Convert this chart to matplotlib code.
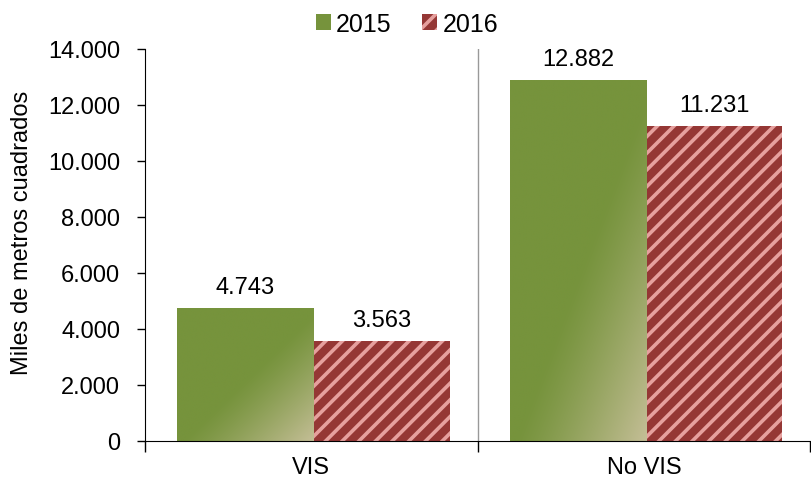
import matplotlib
matplotlib.use("Agg")
import matplotlib.pyplot as plt
import numpy as np
from matplotlib.colors import LinearSegmentedColormap

plt.rcParams["font.family"] = ["Liberation Sans", "DejaVu Sans"]
plt.rcParams["hatch.linewidth"] = 2.6
plt.rcParams["hatch.color"] = "#E6A09E"

categories = ["VIS", "No VIS"]
series_names = ["2015", "2016"]
values_2015 = [4743, 12882]
values_2016 = [3563, 11231]

GREEN = "#76933C"
GREEN_LIGHT = "#C4BE96"
RED = "#953735"


def thousands(value):
    return f"{value:,.0f}".replace(",", ".")


def add_gradient(ax, bar):
    x0, y0 = bar.get_x(), bar.get_y()
    w, h = bar.get_width(), bar.get_height()
    xs = np.linspace(0, 1, 200)
    ys = np.linspace(0, 1, 200)
    gx, gy = np.meshgrid(xs, ys)
    # 0 at the top-left corner, 1 at the bottom-right corner of the bar
    t = (gx + gy) / 2
    t = np.clip((t - 0.52) / 0.48, 0, 1) ** 1.2
    cmap = LinearSegmentedColormap.from_list("g", [GREEN, GREEN_LIGHT])
    im = ax.imshow(t, cmap=cmap, vmin=0, vmax=1, extent=(x0, x0 + w, y0, y0 + h),
                   origin="upper", aspect="auto", interpolation="bilinear", zorder=2)
    im.set_clip_path(bar)


def main():
    fig = plt.figure(figsize=(8.12, 4.85), dpi=100)
    ax = fig.add_axes([0.1786, 0.0887, 0.8194, 0.8083])

    x = np.arange(len(categories))
    width = 0.41

    bars_2015 = ax.bar(x - width / 2 + 0.006, values_2015, width, color=GREEN,
                       linewidth=0, label=series_names[0], zorder=2)
    bars_2016 = ax.bar(x + width / 2 + 0.006, values_2016, width, color=RED,
                       hatch="//", linewidth=0, label=series_names[1], zorder=2)

    for bar in bars_2015:
        add_gradient(ax, bar)

    for bars in (bars_2015, bars_2016):
        for bar in bars:
            ax.text(bar.get_x() + bar.get_width() / 2, bar.get_height() + 380,
                    thousands(bar.get_height()), ha="center", va="bottom",
                    fontsize=17)

    ax.set_xlim(-0.5, len(categories) - 0.5)
    ax.set_ylim(0, 14000)
    ax.set_yticks(np.arange(0, 14001, 2000))
    ax.yaxis.set_major_formatter(lambda value, position: thousands(value))

    ax.set_xticks(np.arange(-0.5, len(categories), 1.0))
    ax.set_xticklabels([])
    ax.set_xticks(x, minor=True)
    ax.set_xticklabels(categories, minor=True)
    ax.tick_params(axis="x", which="minor", length=0, labelsize=17, pad=11)
    ax.tick_params(axis="x", which="major", length=8, width=1, direction="out")
    ax.tick_params(axis="y", length=6, width=1, direction="out", labelsize=17, pad=12)

    ax.axvline(0.5, color="#999999", linewidth=1, zorder=1)

    ax.spines["top"].set_visible(False)
    ax.spines["right"].set_visible(False)

    ax.set_ylabel("Miles de metros cuadrados", fontsize=17)
    ax.yaxis.set_label_coords(-0.168, 0.533)

    fig.legend(handles=[bars_2015, bars_2016], labels=series_names,
               loc="upper center", bbox_to_anchor=(0.501, 1.02), ncol=2,
               frameon=False, fontsize=18, handlelength=0.6, handleheight=0.6,
               handletextpad=0.2, columnspacing=1.25)

    fig.savefig("out.png", dpi=100)
    plt.close(fig)


if __name__ == "__main__":
    main()
